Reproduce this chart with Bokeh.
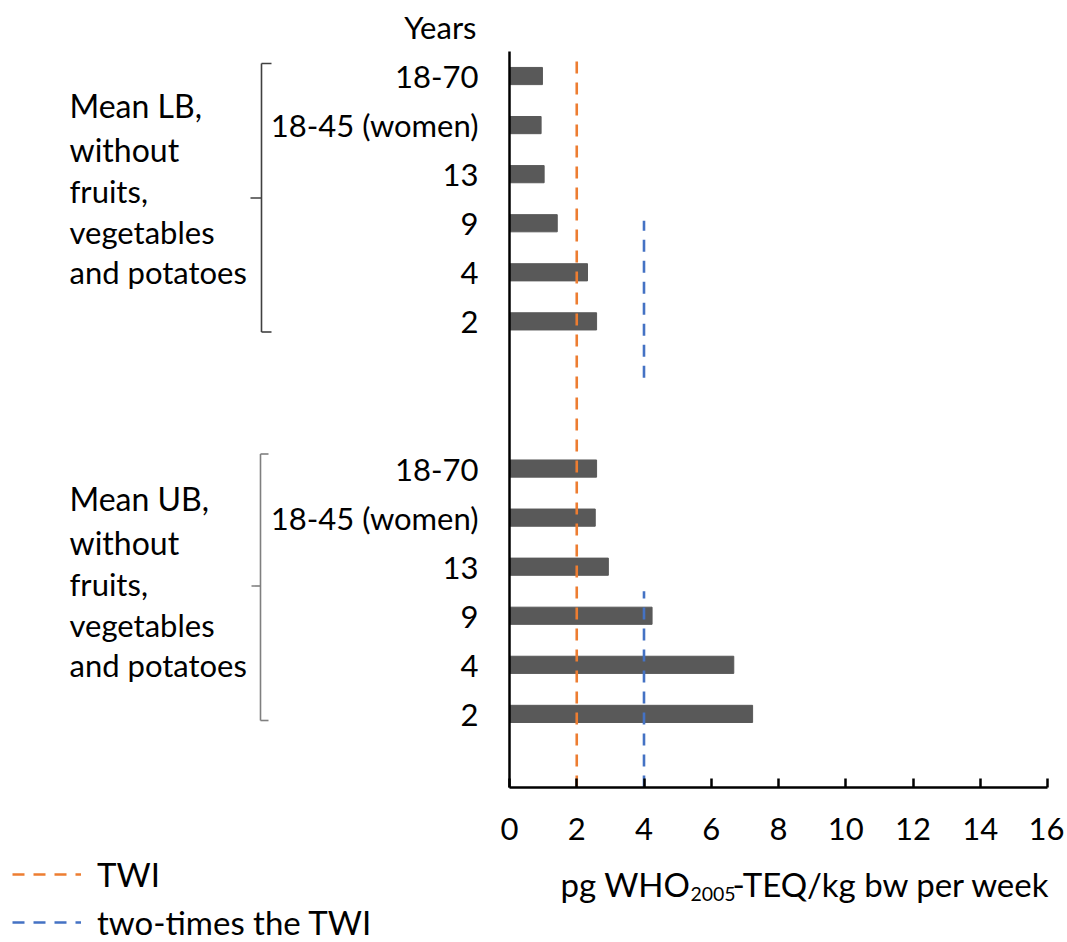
from bokeh.plotting import figure
from bokeh.models import FixedTicker, Label, Arrow, Legend, LegendItem, Range1d
from bokeh.embed import file_html
from bokeh.resources import INLINE

# ---------------- data ----------------
age_groups = ["18-70", "18-45 (women)", "13", "9", "4", "2"]
mean_lb = [0.98, 0.94, 1.03, 1.42, 2.32, 2.59]
mean_ub = [2.59, 2.55, 2.94, 4.24, 6.67, 7.23]
group_lb_lines = ["Mean LB,", "without", "fruits,", "vegetables", "and potatoes"]
group_ub_lines = ["Mean UB,", "without", "fruits,", "vegetables", "and potatoes"]
years_title = "Years"
x_ticks = [0, 2, 4, 6, 8, 10, 12, 14, 16]
twi = 2.0
twi_twice = 4.0
twi_extent = [-0.5, 14.36]
twi_twice_extents = [[7.85, 11.05], [-0.5, 3.5]]
x_label_parts = ["pg WHO", "2005", "-TEQ/kg bw per week"]
legend_labels = ["TWI", "two-times the TWI"]

# ---------------- layout ----------------
n = len(age_groups)
ub_y = [n - i for i in range(n)]               # 6..1
lb_y = [2 * n + 2 - i for i in range(n)]       # 14..9
AX_Y0, AX_Y1 = -0.5, 14.5
AX_X0, AX_X1 = 0, 16

W, H = 1064, 942
PX0, PX1 = 509.0, 1047.0
PY_TOP, PY_BOT = 51.0, 787.0
SX = (PX1 - PX0) / (AX_X1 - AX_X0)
SY = (PY_BOT - PY_TOP) / (AX_Y1 - AX_Y0)


def dx(px):
    return AX_X0 + (px - PX0) / SX


def dy(py):
    return AX_Y1 - (py - PY_TOP) / SY


FONT = "Lato"
BLACK = "#000000"

p = figure(width=W, height=H, x_range=Range1d(dx(0), dx(W)), y_range=Range1d(dy(H), dy(0)),
           output_backend="svg", toolbar_location=None,
           min_border=0, min_border_left=0, min_border_right=0, min_border_top=0, min_border_bottom=0)
p.outline_line_color = None
p.grid.visible = False
p.background_fill_color = "white"
p.border_fill_color = "white"

# x axis
xa = p.xaxis[0]
xa.fixed_location = AX_Y0
xa.bounds = (AX_X0, AX_X1)
xa.ticker = FixedTicker(ticks=x_ticks)
xa.major_tick_in = 9
xa.major_tick_out = 0
xa.minor_tick_line_color = None
xa.axis_line_width = 2.5
xa.major_tick_line_width = 2.5
xa.axis_line_color = BLACK
xa.major_tick_line_color = BLACK
xa.major_label_text_font = FONT
xa.major_label_text_font_size = "31px"
xa.major_label_text_color = BLACK
xa.major_label_standoff = 30

# y axis
ya = p.yaxis[0]
ya.fixed_location = AX_X0
ya.bounds = (AX_Y0, AX_Y1)
ya.ticker = FixedTicker(ticks=lb_y + ub_y)
ya.major_label_overrides = {**{y: g for y, g in zip(lb_y, age_groups)},
                            **{y: g for y, g in zip(ub_y, age_groups)}}
ya.major_tick_in = 0
ya.major_tick_out = 0
ya.minor_tick_line_color = None
ya.axis_line_width = 2.5
ya.axis_line_color = BLACK
ya.major_label_text_font = FONT
ya.major_label_text_font_size = "31px"
ya.major_label_text_color = BLACK
ya.major_label_standoff = 31

# bars
p.hbar(y=lb_y + ub_y, left=0, right=mean_lb + mean_ub, height=0.35,
       fill_color="#595959", line_color="#595959", line_width=1)

# TWI lines
r_twi = p.line(x=[twi, twi], y=twi_extent, line_color="#ED7D31", line_width=2.6, line_dash="12 9")
r_twi2 = p.multi_line(xs=[[twi_twice, twi_twice] for _ in twi_twice_extents], ys=twi_twice_extents,
                      line_color="#4472C4", line_width=2.6, line_dash="12 9")

# legend (bottom-left)
legend = Legend(items=[LegendItem(label=legend_labels[0], renderers=[r_twi]),
                       LegendItem(label=legend_labels[1], renderers=[r_twi2])],
                location=(12, 0),
                orientation="vertical", glyph_width=69, glyph_height=38, label_height=38,
                label_standoff=16, spacing=8, padding=0, margin=0,
                border_line_alpha=0, background_fill_alpha=0,
                label_text_font=FONT, label_text_font_size="33px", label_text_color=BLACK)
p.add_layout(legend)


def text(t, px, py_base, size, align="left"):
    # py_base: wanted pixel baseline; small correction for how the label anchors its baseline
    p.add_layout(Label(x=dx(px), y=dy(py_base - 0.42 * size), text=t, text_align=align,
                       text_baseline="alphabetic", text_font=FONT, text_font_size=f"{size}px",
                       text_color=BLACK))


# "Years" header
text(years_title, 476, 39.5, 31, "right")

# group labels
lb_baselines = [118, 162, 204, 245, 285]
ub_baselines = [b + 393 for b in lb_baselines]
for lines, bases in ((group_lb_lines, lb_baselines), (group_ub_lines, ub_baselines)):
    for i, (t, b) in enumerate(zip(lines, bases)):
        text(t, 69, b, 32 if i < 2 else 31)


# brackets
def bracket(xv, top, bot, mid, hook, tick, color):
    segs = [((xv + hook, top), (xv, top)), ((xv, top), (xv, bot)),
            ((xv, bot), (xv + hook, bot)), ((xv - tick, mid), (xv, mid))]
    for (x0, y0), (x1, y1) in segs:
        p.add_layout(Arrow(end=None, x_start=dx(x0), y_start=dy(y0), x_end=dx(x1), y_end=dy(y1),
                           line_color=color, line_width=1.6))


bracket(261, 63, 331.5, 197.5, 10, 11, "#404040")
bracket(260, 453.5, 720, 585.5, 8, 9, "#7f7f7f")

# x axis title with subscript
text(x_label_parts[0], 560, 897, 33, "left")
text(x_label_parts[1], 712.5, 902, 19.5, "center")
text(x_label_parts[2], 1050, 897, 33, "right")

open("out.html", "w").write(file_html(p, INLINE))
